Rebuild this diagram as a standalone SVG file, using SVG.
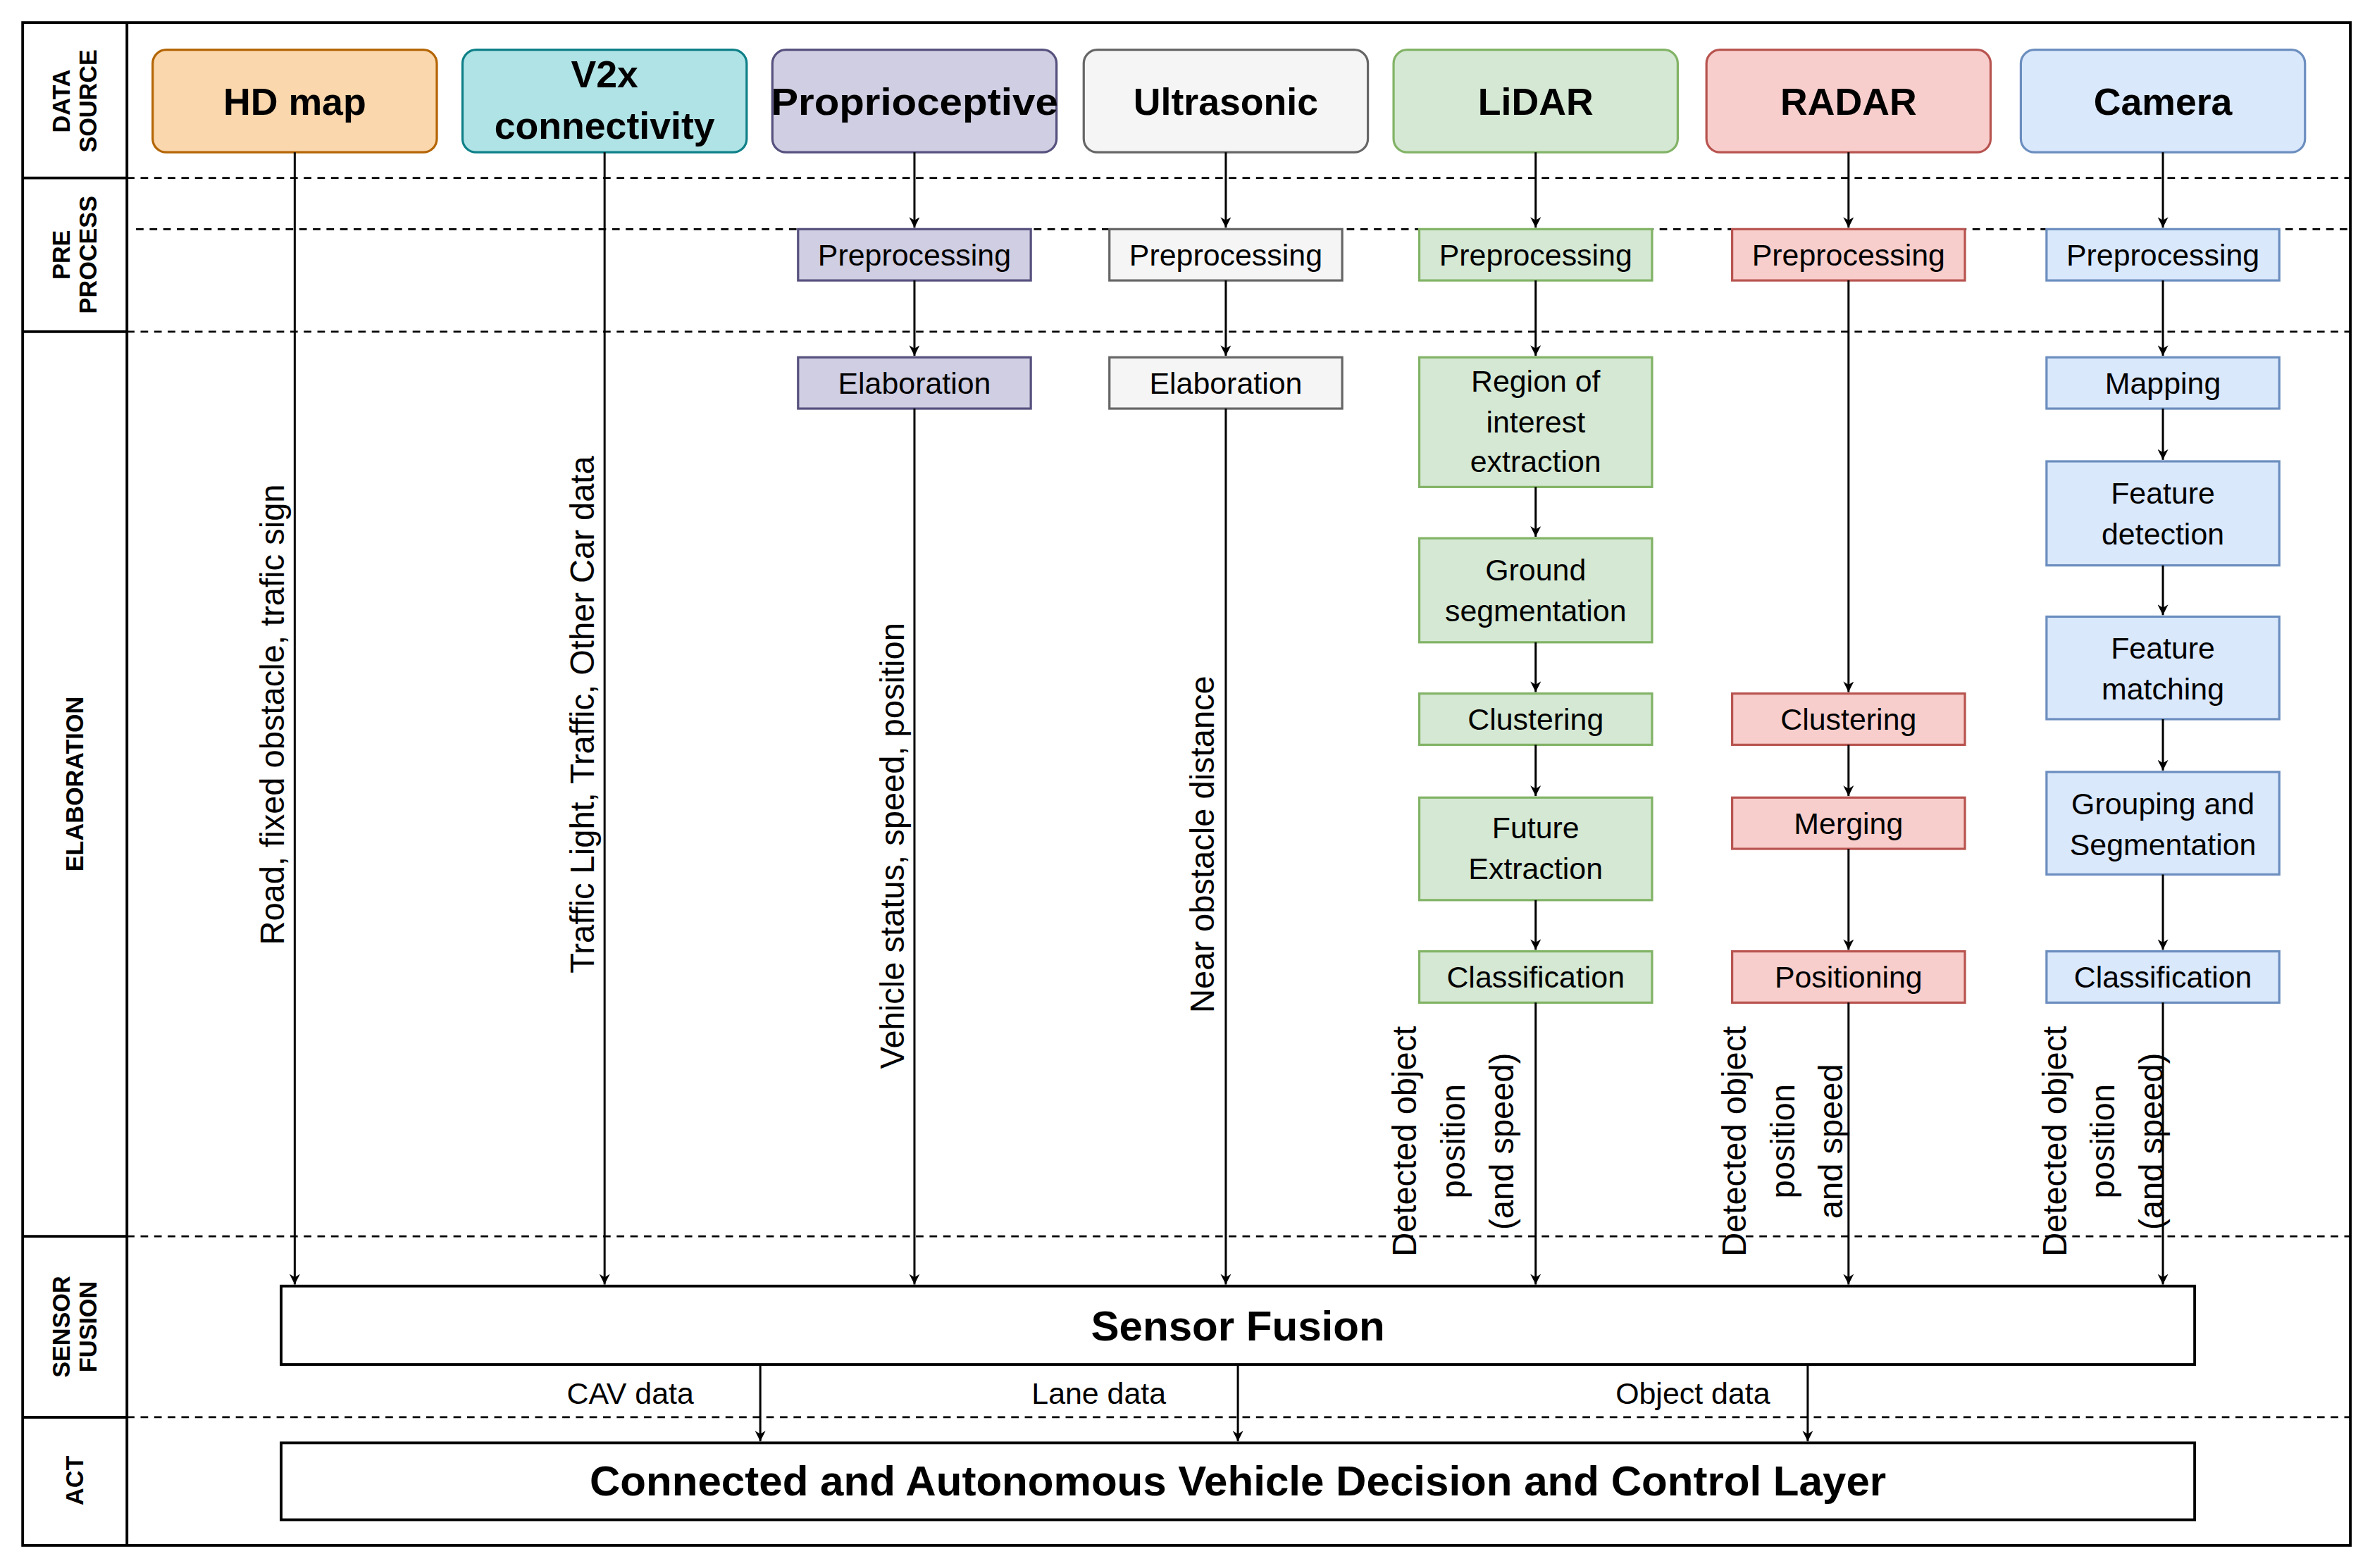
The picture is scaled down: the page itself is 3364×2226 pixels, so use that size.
<svg xmlns="http://www.w3.org/2000/svg" width="3364" height="2226" viewBox="0 0 3364 2226">
<style>
text{font-family:"Liberation Sans",Arial,sans-serif;fill:#000}
.src{font-size:25px;font-weight:bold;text-anchor:middle}
.bx{font-size:20px;text-anchor:middle}
.lane{font-size:16px;font-weight:bold;text-anchor:middle}
.lbl{font-size:22px;text-anchor:middle}
.big{font-size:28px;font-weight:bold;text-anchor:middle}
.dash{stroke:#000;stroke-width:1.3;stroke-dasharray:5 4;fill:none}
.ln{stroke:#000;stroke-width:1.4;fill:none;marker-end:url(#ah)}
.solid{stroke:#000;stroke-width:1.8;fill:none}
</style>
<defs>
<marker id="ah" viewBox="0 0 10 10" refX="10" refY="5" markerWidth="7" markerHeight="7" orient="auto" markerUnits="userSpaceOnUse"><path d="M0,0 L10,5 L0,10 L3,5 Z" fill="#000"/></marker>
</defs>
<rect width="3364" height="2226" fill="#fff"/>
<g transform="scale(2.1454 2.1404)">
<g id="frame">
<rect x="15" y="15" width="1540" height="1010" class="solid"/>
<line x1="84" y1="15" x2="84" y2="1025" class="solid"/>
<line x1="15" y1="118" x2="84" y2="118" class="solid"/>
<line x1="15" y1="220" x2="84" y2="220" class="solid"/>
<line x1="15" y1="820" x2="84" y2="820" class="solid"/>
<line x1="15" y1="940" x2="84" y2="940" class="solid"/>
<line x1="84" y1="118" x2="1555" y2="118" class="dash"/>
<line x1="90" y1="152" x2="1555" y2="152" class="dash"/>
<line x1="84" y1="220" x2="1555" y2="220" class="dash"/>
<line x1="84" y1="820" x2="1555" y2="820" class="dash"/>
<line x1="84" y1="940" x2="1555" y2="940" class="dash"/>
<text class="lane" transform="translate(49,67) rotate(-90)"><tspan x="0" dy="-3">DATA</tspan><tspan x="0" dy="18">SOURCE</tspan></text>
<text class="lane" transform="translate(49,169) rotate(-90)"><tspan x="0" dy="-3">PRE</tspan><tspan x="0" dy="18">PROCESS</tspan></text>
<text class="lane" transform="translate(55,520) rotate(-90)">ELABORATION</text>
<text class="lane" transform="translate(49,880) rotate(-90)"><tspan x="0" dy="-3">SENSOR</tspan><tspan x="0" dy="18">FUSION</tspan></text>
<text class="lane" transform="translate(55,982) rotate(-90)">ACT</text>
</g>
<g id="hdmap"><rect x="101" y="33" width="188" height="68" rx="9" fill="#fad7ac" stroke="#b46504" stroke-width="1.5"/><text class="src" x="195" y="76">HD map</text></g>
<g id="v2x"><rect x="306" y="33" width="188" height="68" rx="9" fill="#b0e3e6" stroke="#0e8088" stroke-width="1.5"/><text class="src" x="400" y="58">V2x</text><text class="src" x="400" y="92">connectivity</text></g>
<g id="proprio"><rect x="511" y="33" width="188" height="68" rx="9" fill="#d0cee2" stroke="#56517e" stroke-width="1.5"/><text class="src" x="605" y="76" textLength="190" lengthAdjust="spacingAndGlyphs">Proprioceptive</text></g>
<g id="ultra"><rect x="717" y="33" width="188" height="68" rx="9" fill="#f5f5f5" stroke="#666" stroke-width="1.5"/><text class="src" x="811" y="76" fill="#333">Ultrasonic</text></g>
<g id="lidar"><rect x="922" y="33" width="188" height="68" rx="9" fill="#d5e8d4" stroke="#82b366" stroke-width="1.5"/><text class="src" x="1016" y="76">LiDAR</text></g>
<g id="radar"><rect x="1129" y="33" width="188" height="68" rx="9" fill="#f8cecc" stroke="#b85450" stroke-width="1.5"/><text class="src" x="1223" y="76">RADAR</text></g>
<g id="camera"><rect x="1337" y="33" width="188" height="68" rx="9" fill="#dae8fc" stroke="#6c8ebf" stroke-width="1.5"/><text class="src" x="1431" y="76">Camera</text></g>

<g id="pp-prop"><rect x="528" y="152" width="154" height="34" fill="#d0cee2" stroke="#56517e" stroke-width="1.5"/><text class="bx" x="605" y="176">Preprocessing</text></g>
<g id="pp-ultra"><rect x="734" y="152" width="154" height="34" fill="#f5f5f5" stroke="#666" stroke-width="1.5"/><text class="bx" x="811" y="176" fill="#333">Preprocessing</text></g>
<g id="pp-lidar"><rect x="939" y="152" width="154" height="34" fill="#d5e8d4" stroke="#82b366" stroke-width="1.5"/><text class="bx" x="1016" y="176">Preprocessing</text></g>
<g id="pp-radar"><rect x="1146" y="152" width="154" height="34" fill="#f8cecc" stroke="#b85450" stroke-width="1.5"/><text class="bx" x="1223" y="176">Preprocessing</text></g>
<g id="pp-cam"><rect x="1354" y="152" width="154" height="34" fill="#dae8fc" stroke="#6c8ebf" stroke-width="1.5"/><text class="bx" x="1431" y="176">Preprocessing</text></g>

<g id="el-prop"><rect x="528" y="237" width="154" height="34" fill="#d0cee2" stroke="#56517e" stroke-width="1.5"/><text class="bx" x="605" y="261">Elaboration</text></g>
<g id="el-ultra"><rect x="734" y="237" width="154" height="34" fill="#f5f5f5" stroke="#666" stroke-width="1.5"/><text class="bx" x="811" y="261" fill="#333">Elaboration</text></g>

<g id="l-roi"><rect x="939" y="237" width="154" height="86" fill="#d5e8d4" stroke="#82b366" stroke-width="1.5"/><text class="bx" x="1016" y="260">Region of</text><text class="bx" x="1016" y="287">interest</text><text class="bx" x="1016" y="313">extraction</text></g>
<g id="l-ground"><rect x="939" y="357" width="154" height="69" fill="#d5e8d4" stroke="#82b366" stroke-width="1.5"/><text class="bx" x="1016" y="385">Ground</text><text class="bx" x="1016" y="412">segmentation</text></g>
<g id="l-clust"><rect x="939" y="460" width="154" height="34" fill="#d5e8d4" stroke="#82b366" stroke-width="1.5"/><text class="bx" x="1016" y="484">Clustering</text></g>
<g id="l-future"><rect x="939" y="529" width="154" height="68" fill="#d5e8d4" stroke="#82b366" stroke-width="1.5"/><text class="bx" x="1016" y="556">Future</text><text class="bx" x="1016" y="583">Extraction</text></g>
<g id="l-class"><rect x="939" y="631" width="154" height="34" fill="#d5e8d4" stroke="#82b366" stroke-width="1.5"/><text class="bx" x="1016" y="655">Classification</text></g>

<g id="r-clust"><rect x="1146" y="460" width="154" height="34" fill="#f8cecc" stroke="#b85450" stroke-width="1.5"/><text class="bx" x="1223" y="484">Clustering</text></g>
<g id="r-merge"><rect x="1146" y="529" width="154" height="34" fill="#f8cecc" stroke="#b85450" stroke-width="1.5"/><text class="bx" x="1223" y="553">Merging</text></g>
<g id="r-pos"><rect x="1146" y="631" width="154" height="34" fill="#f8cecc" stroke="#b85450" stroke-width="1.5"/><text class="bx" x="1223" y="655">Positioning</text></g>

<g id="c-map"><rect x="1354" y="237" width="154" height="34" fill="#dae8fc" stroke="#6c8ebf" stroke-width="1.5"/><text class="bx" x="1431" y="261">Mapping</text></g>
<g id="c-fd"><rect x="1354" y="306" width="154" height="69" fill="#dae8fc" stroke="#6c8ebf" stroke-width="1.5"/><text class="bx" x="1431" y="334">Feature</text><text class="bx" x="1431" y="361">detection</text></g>
<g id="c-fm"><rect x="1354" y="409" width="154" height="68" fill="#dae8fc" stroke="#6c8ebf" stroke-width="1.5"/><text class="bx" x="1431" y="437">Feature</text><text class="bx" x="1431" y="464">matching</text></g>
<g id="c-gs"><rect x="1354" y="512" width="154" height="68" fill="#dae8fc" stroke="#6c8ebf" stroke-width="1.5"/><text class="bx" x="1431" y="540">Grouping and</text><text class="bx" x="1431" y="567">Segmentation</text></g>
<g id="c-class"><rect x="1354" y="631" width="154" height="34" fill="#dae8fc" stroke="#6c8ebf" stroke-width="1.5"/><text class="bx" x="1431" y="655">Classification</text></g>

<g id="sf"><rect x="186" y="853" width="1266" height="52" fill="#fff" stroke="#000" stroke-width="1.8"/><text class="big" x="819" y="889">Sensor Fusion</text></g>
<g id="act"><rect x="186" y="957" width="1266" height="51" fill="#fff" stroke="#000" stroke-width="1.8"/><text class="big" x="819" y="992">Connected and Autonomous Vehicle Decision and Control Layer</text></g>

<g id="connectors">
<line x1="195" y1="101" x2="195" y2="852" class="ln"/>
<line x1="400" y1="101" x2="400" y2="852" class="ln"/>
<line x1="605" y1="101" x2="605" y2="151" class="ln"/>
<line x1="605" y1="186" x2="605" y2="236" class="ln"/>
<line x1="605" y1="271" x2="605" y2="852" class="ln"/>
<line x1="811" y1="101" x2="811" y2="151" class="ln"/>
<line x1="811" y1="186" x2="811" y2="236" class="ln"/>
<line x1="811" y1="271" x2="811" y2="852" class="ln"/>
<line x1="1016" y1="101" x2="1016" y2="151" class="ln"/>
<line x1="1016" y1="186" x2="1016" y2="236" class="ln"/>
<line x1="1016" y1="323" x2="1016" y2="356" class="ln"/>
<line x1="1016" y1="426" x2="1016" y2="459" class="ln"/>
<line x1="1016" y1="494" x2="1016" y2="528" class="ln"/>
<line x1="1016" y1="597" x2="1016" y2="630" class="ln"/>
<line x1="1016" y1="665" x2="1016" y2="852" class="ln"/>
<line x1="1223" y1="101" x2="1223" y2="151" class="ln"/>
<line x1="1223" y1="186" x2="1223" y2="459" class="ln"/>
<line x1="1223" y1="494" x2="1223" y2="528" class="ln"/>
<line x1="1223" y1="563" x2="1223" y2="630" class="ln"/>
<line x1="1223" y1="665" x2="1223" y2="852" class="ln"/>
<line x1="1431" y1="101" x2="1431" y2="151" class="ln"/>
<line x1="1431" y1="186" x2="1431" y2="236" class="ln"/>
<line x1="1431" y1="271" x2="1431" y2="305" class="ln"/>
<line x1="1431" y1="375" x2="1431" y2="408" class="ln"/>
<line x1="1431" y1="477" x2="1431" y2="511" class="ln"/>
<line x1="1431" y1="580" x2="1431" y2="630" class="ln"/>
<line x1="1431" y1="665" x2="1431" y2="852" class="ln"/>
<line x1="503" y1="905" x2="503" y2="956" class="ln"/>
<line x1="819" y1="905" x2="819" y2="956" class="ln"/>
<line x1="1196" y1="905" x2="1196" y2="956" class="ln"/>
<text class="lbl" transform="translate(188,474) rotate(-90)">Road, fixed obstacle, trafic sign</text>
<text class="lbl" transform="translate(393,474) rotate(-90)">Traffic Light, Traffic, Other Car data</text>
<text class="lbl" transform="translate(598,561) rotate(-90)">Vehicle status, speed, position</text>
<text class="lbl" transform="translate(803,560) rotate(-90)">Near obstacle distance</text>
<text class="lbl" transform="translate(969,757) rotate(-90)"><tspan x="0" dy="-32">Detected object</tspan><tspan x="0" dy="32">position</tspan><tspan x="0" dy="32">(and speed)</tspan></text>
<text class="lbl" transform="translate(1187,757) rotate(-90)"><tspan x="0" dy="-32">Detected object</tspan><tspan x="0" dy="32">position</tspan><tspan x="0" dy="32">and speed</tspan></text>
<text class="lbl" transform="translate(1399,757) rotate(-90)"><tspan x="0" dy="-32">Detected object</tspan><tspan x="0" dy="32">position</tspan><tspan x="0" dy="32">(and speed)</tspan></text>
<text class="bx" x="417" y="931">CAV data</text>
<text class="bx" x="727" y="931">Lane data</text>
<text class="bx" x="1120" y="931">Object data</text>
</g>
</g>
</svg>
